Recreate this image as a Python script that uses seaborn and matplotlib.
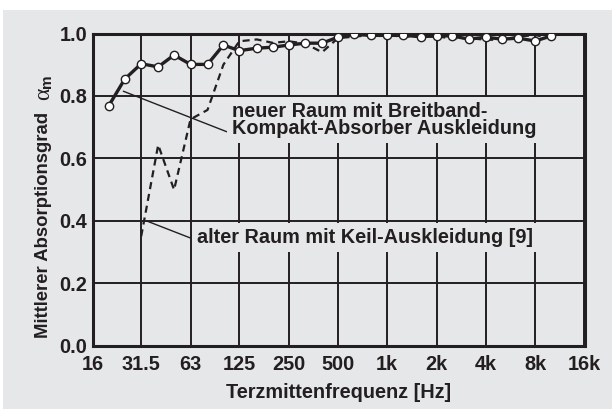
import matplotlib
matplotlib.use("Agg")
import matplotlib.pyplot as plt
import seaborn as sns
from matplotlib.patches import Rectangle

# ---- data ----
freq_new = [20, 25, 31.5, 40, 50, 63, 80, 100, 125, 160, 200, 250, 315, 400,
            500, 630, 800, 1000, 1250, 1600, 2000, 2500, 3150, 4000, 5000,
            6300, 8000, 10000]
alpha_new = [0.769, 0.854, 0.903, 0.893, 0.931, 0.901, 0.901, 0.963, 0.945,
             0.953, 0.956, 0.963, 0.969, 0.969, 0.988, 0.997, 0.994, 0.994,
             0.994, 0.990, 0.993, 0.992, 0.982, 0.988, 0.982, 0.985, 0.976,
             0.992]
freq_old = [31.5, 40, 50, 63, 80, 100, 125, 160, 200, 250, 315, 400, 500, 630,
            800, 1000, 1250, 1600, 2000, 2500, 3150, 4000, 5000, 6300, 8000,
            10000]
alpha_old = [0.350, 0.643, 0.499, 0.725, 0.755, 0.900, 0.975, 0.981, 0.970,
             0.975, 0.968, 0.940, 0.985, 0.990, 0.995, 0.995, 0.990, 0.990,
             0.990, 0.985, 0.985, 0.980, 0.980, 0.990, 0.995, 0.985]
x_ticks = [16, 31.5, 63, 125, 250, 500, 1000, 2000, 4000, 8000, 16000]
x_tick_labels = ["16", "31.5", "63", "125", "250", "500", "1k", "2k", "4k",
                 "8k", "16k"]
y_ticks = [0.0, 0.2, 0.4, 0.6, 0.8, 1.0]
y_tick_labels = ["0.0", "0.2", "0.4", "0.6", "0.8", "1.0"]
label_new = "neuer Raum mit Breitband-\nKompakt-Absorber Auskleidung"
label_old = "alter Raum mit Keil-Auskleidung [9]"
x_title = "Terzmittenfrequenz [Hz]"
y_title = "Mittlerer Absorptionsgrad"
y_symbol = "α"
y_symbol_sub = "m"

# ---- style ----
sns.set_theme(style="white")
plt.rcParams["font.family"] = ["Liberation Sans", "DejaVu Sans"]
plt.rcParams["font.weight"] = "bold"
plt.rcParams["axes.labelweight"] = "bold"

BG = "#e6e7e8"
INK = "#231f20"
FS = 14.3

fig = plt.figure(figsize=(6.12, 4.09), dpi=100, facecolor="white")
fig.patches.append(Rectangle((3 / 612, 0), 1, 399 / 409, transform=fig.transFigure,
                             facecolor=BG, edgecolor="none", zorder=-10))
ax = fig.add_axes([93 / 612, 1 - 345.5 / 409, 491.5 / 612, 312 / 409])
ax.set_facecolor(BG)

sns.lineplot(x=freq_old, y=alpha_old, ax=ax, color=INK, lw=1.6,
             linestyle=(0, (3.2, 2.2)), zorder=3)
sns.lineplot(x=freq_new, y=alpha_new, ax=ax, color=INK, lw=2.4, marker="o",
             markersize=6, markerfacecolor="white", markeredgecolor=INK,
             markeredgewidth=1.0, zorder=4)

ax.set_xscale("log")
ax.set_xlim(16, 16000)
ax.set_ylim(0, 1.0)
ax.set_xticks(x_ticks)
ax.set_xticklabels(x_tick_labels)
ax.minorticks_off()
ax.set_yticks(y_ticks)
ax.set_yticklabels(y_tick_labels)
ax.tick_params(axis="both", length=0, labelsize=FS, labelcolor=INK)
ax.tick_params(axis="x", pad=6.5)
ax.tick_params(axis="y", pad=4)

ax.grid(True, color=INK, lw=1.4)
ax.set_axisbelow(True)
for s in ax.spines.values():
    s.set_visible(True)
    s.set_color(INK)
    s.set_linewidth(2.2)

ax.set_xlabel(x_title, fontsize=FS, color=INK, va="center", fontweight="bold")
ax.xaxis.set_label_coords(0.499, -0.150)
ax.set_ylabel(y_title, fontsize=13.3, color=INK, va="center", fontweight="bold")
ax.yaxis.set_label_coords(-0.1017, 0.386)
ax.text(-0.100, 0.806, y_symbol, transform=ax.transAxes, rotation=90,
        ha="center", va="center", fontsize=17, color=INK,
        family="Liberation Serif", fontweight="normal", clip_on=False)
ax.text(-0.0935, 0.848, y_symbol_sub, transform=ax.transAxes, rotation=90,
        ha="center", va="center", fontsize=11, color=INK,
        fontweight="bold", clip_on=False)

# annotations
ax.annotate("", xy=(24.5, 0.815), xytext=(105, 0.685),
            arrowprops=dict(arrowstyle="-", color=INK, lw=1.0,
                            shrinkA=0, shrinkB=0), zorder=2.5)
ax.annotate("", xy=(33.7, 0.40), xytext=(67, 0.339),
            arrowprops=dict(arrowstyle="-", color=INK, lw=1.0,
                            shrinkA=0, shrinkB=0), zorder=2.5)
ax.text(113, 0.723, label_new, ha="left", va="center", fontsize=FS,
        color=INK, linespacing=0.92,
        bbox=dict(facecolor=BG, edgecolor="none", pad=3.5), zorder=5)
ax.text(68.8, 0.346, label_old, ha="left", va="center", fontsize=FS,
        color=INK, bbox=dict(facecolor=BG, edgecolor="none", pad=3.5),
        zorder=5)

fig.savefig("out.png", dpi=100, facecolor="white")
